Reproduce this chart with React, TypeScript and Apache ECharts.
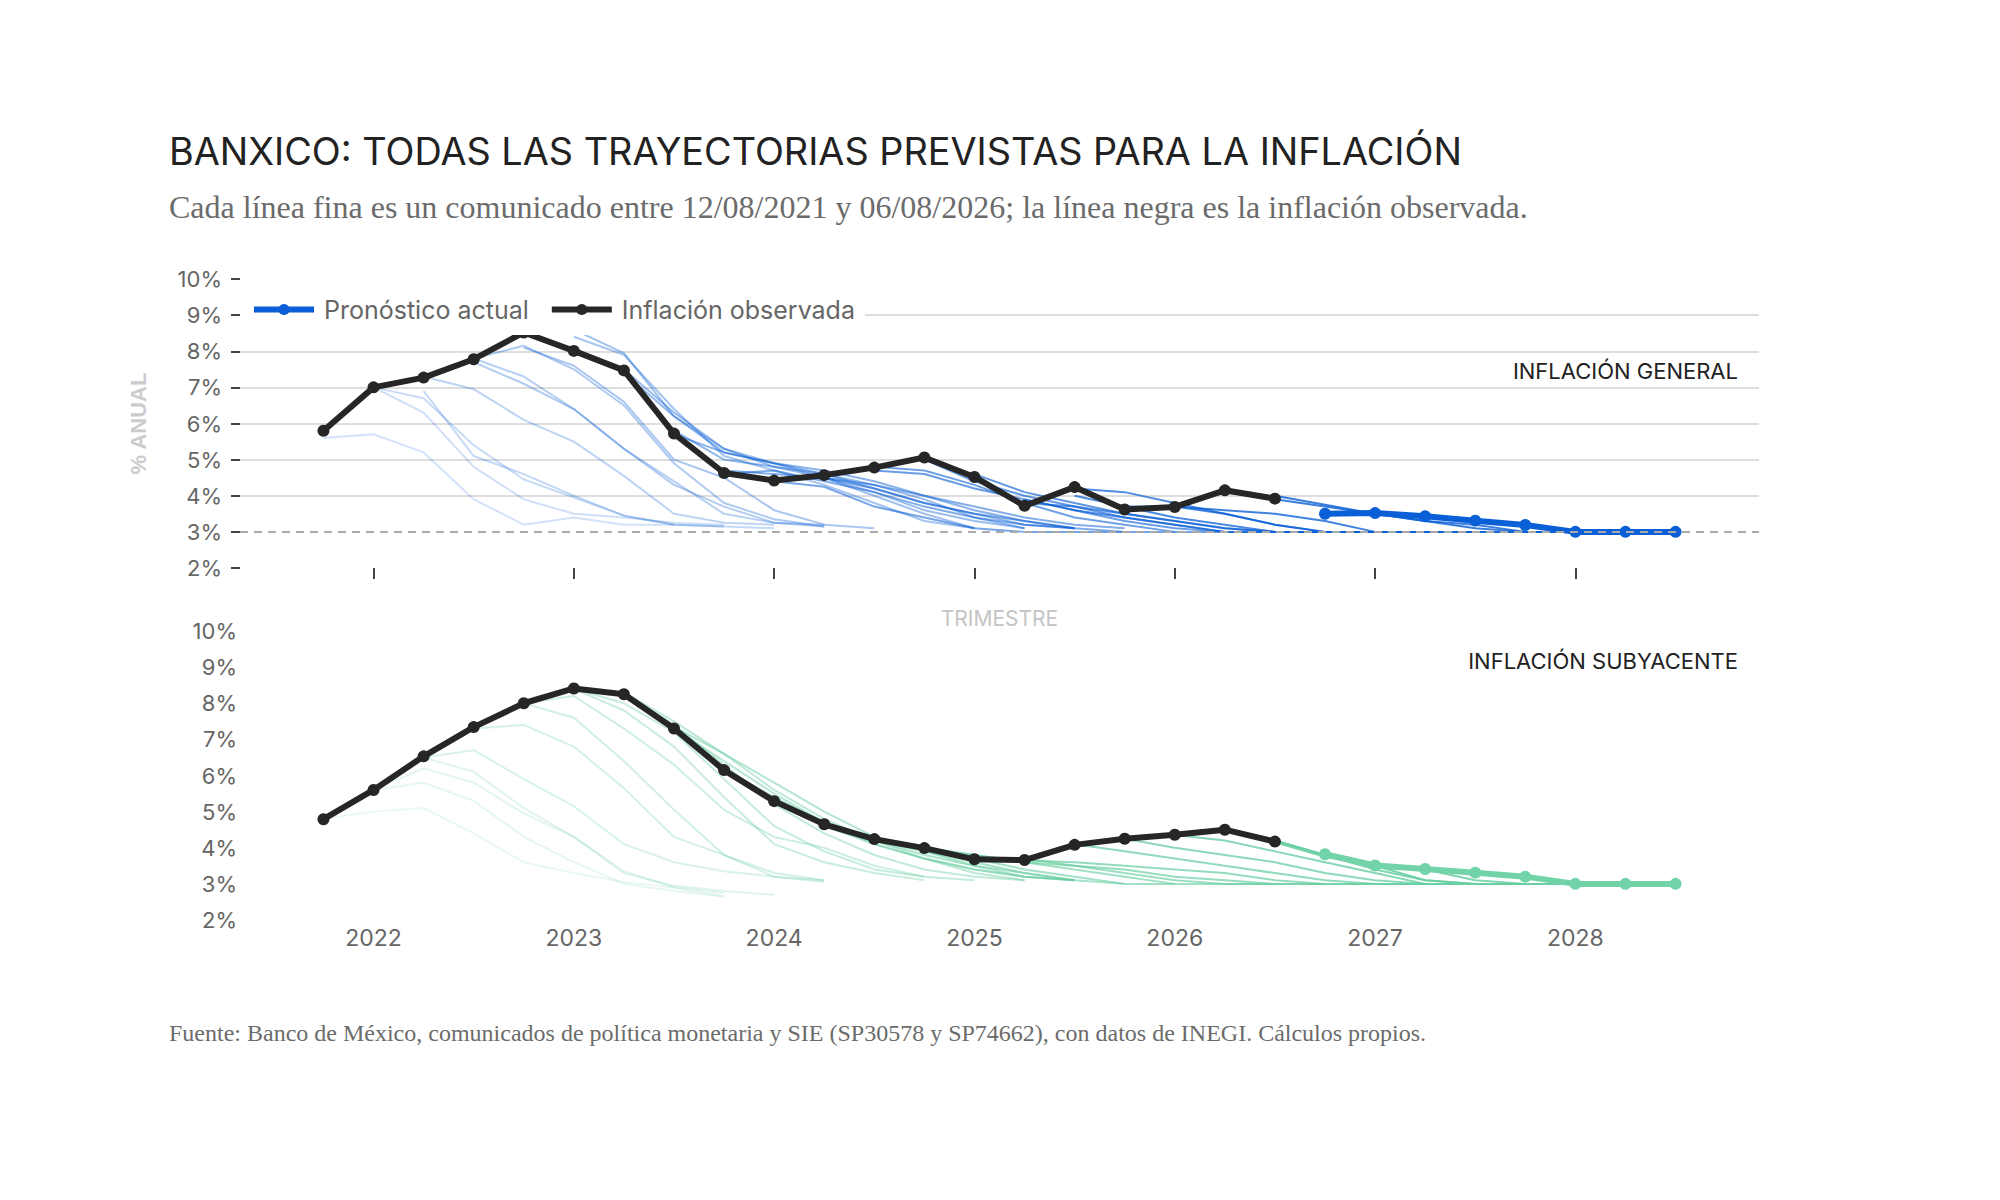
import { useEffect, useRef } from 'react';
import * as echarts from 'echarts';

// trimestres como año decimal (T1 = .00, T2 = .25, T3 = .50, T4 = .75)
const observedStart = 2021.75;
const forecastStart = 2026.75;
const yearTicks = [2022, 2023, 2024, 2025, 2026, 2027, 2028];

const generalObserved = [5.8, 7.0, 7.27, 7.78, 8.52, 8.01, 7.47, 5.72, 4.63, 4.42, 4.57, 4.78, 5.06, 4.52, 3.72, 4.24, 3.62, 3.69, 4.15, 3.92];
const coreObserved = [4.79, 5.6, 6.53, 7.34, 8.0, 8.41, 8.25, 7.3, 6.15, 5.29, 4.65, 4.24, 3.99, 3.68, 3.66, 4.08, 4.25, 4.36, 4.5, 4.17];

const generalForecast = [3.5, 3.52, 3.43, 3.31, 3.19, 3.0, 3.0, 3.0];
const coreForecast = [3.82, 3.51, 3.41, 3.31, 3.2, 3.0, 3.0, 3.0];

// trayectorias previstas en cada comunicado (de la más antigua a la más reciente)
const generalPathStarts = [
  2021.75, 2022.0, 2022.0, 2022.25, 2022.25, 2022.5, 2022.5, 2022.5, 2022.75, 2023.0, 2023.0,
  2023.25, 2023.25, 2023.5, 2023.5, 2023.75, 2023.75, 2024.0, 2024.0, 2024.5, 2024.5, 2024.75,
  2025.0, 2025.25, 2025.25, 2025.5, 2025.5, 2025.75, 2026.0, 2026.25, 2026.5,
];
const generalPaths = [
  [5.6, 5.7, 5.2, 3.9, 3.2, 3.4, 3.2, 3.2],
  [7.0, 6.3, 4.8, 3.9, 3.5, 3.4, 3.25, 3.2],
  [7.0, 6.7, 5.4, 4.45, 3.95, 3.45, 3.2, 3.15],
  [6.9, 5.1, 4.6, 4.0, 3.45, 3.2, 3.15, 3.1],
  [7.3, 6.95, 6.1, 5.5, 4.55, 3.5, 3.25, 3.2],
  [7.8, 7.3, 6.4, 5.3, 4.4, 3.5, 3.25, 3.2],
  [7.7, 7.1, 6.4, 5.3, 4.3, 3.7, 3.25, 3.15],
  [7.8, 8.15, 7.5, 6.5, 4.9, 3.8, 3.35, 3.15],
  [8.1, 7.6, 6.6, 5.0, 4.5, 3.6, 3.2, 3.1],
  [8.4, 7.9, 6.4, 5.1, 4.7, 4.3, 3.8, 3.3, 3.1],
  [8.6, 7.95, 6.2, 5.3, 4.9, 4.5, 4.0, 3.5, 3.1],
  [7.5, 6.3, 5.3, 4.8, 4.5, 4.1, 3.6, 3.3, 3.1],
  [7.4, 6.2, 5.2, 4.9, 4.6, 4.3, 3.9, 3.4, 3.1],
  [5.8, 5.0, 4.8, 4.6, 4.2, 3.8, 3.5, 3.2, 3.1],
  [5.7, 5.2, 4.9, 4.7, 4.4, 4.0, 3.6, 3.3, 3.1],
  [4.7, 4.6, 4.5, 4.3, 4.0, 3.7, 3.4, 3.2, 3.1],
  [4.6, 4.7, 4.4, 4.1, 3.7, 3.4, 3.2, 3.1],
  [4.4, 4.5, 4.2, 3.8, 3.5, 3.3, 3.1, 3.0],
  [4.4, 4.25, 3.7, 3.4, 3.1, 3.0, 3.0, 3.0, 3.0, 3.0],
  [4.8, 4.7, 4.3, 3.8, 3.4, 3.2, 3.0],
  [4.7, 4.6, 4.2, 3.9, 3.6, 3.3, 3.1, 3.0],
  [5.0, 4.4, 4.0, 3.7, 3.4, 3.2, 3.0, 3.0, 3.0],
  [4.6, 4.1, 3.8, 3.5, 3.3, 3.1, 3.0, 3.0, 3.0, 3.0],
  [3.8, 3.7, 3.5, 3.3, 3.1, 3.0, 3.0, 3.0],
  [3.9, 3.6, 3.4, 3.2, 3.0, 3.0, 3.0, 3.0, 3.0],
  [4.2, 4.1, 3.8, 3.5, 3.2, 3.0, 3.0, 3.0],
  [4.0, 3.7, 3.4, 3.2, 3.0, 3.0, 3.0, 3.0, 3.0, 3.0],
  [3.7, 3.7, 3.5, 3.2, 3.0, 3.0, 3.0, 3.0],
  [3.7, 3.6, 3.5, 3.3, 3.0, 3.0, 3.0, 3.0, 3.0],
  [4.1, 3.9, 3.7, 3.5, 3.3, 3.2, 3.0, 3.0, 3.0],
  [4.0, 3.75, 3.5, 3.3, 3.1, 3.0, 3.0, 3.0, 3.0],
];

const corePathStarts = [
  2021.75, 2022.0, 2022.0, 2022.25, 2022.25, 2022.5, 2022.75, 2022.75, 2023.0, 2023.0, 2023.25,
  2023.25, 2023.5, 2023.5, 2023.75, 2023.75, 2024.0, 2024.25, 2024.5, 2024.75, 2025.0, 2025.25,
  2025.5, 2025.75, 2026.0, 2026.25, 2026.5, 2026.5,
];
const corePaths = [
  [4.8, 5.0, 5.1, 4.4, 3.6, 3.3, 3.05, 2.9, 2.65],
  [5.6, 5.8, 5.3, 4.3, 3.6, 3.0, 2.8, 2.65],
  [5.6, 6.2, 5.8, 4.95, 4.3, 3.35, 2.9, 2.75],
  [6.5, 6.1, 5.1, 4.3, 3.3, 2.95, 2.8, 2.7],
  [6.5, 6.7, 5.9, 5.15, 4.1, 3.6, 3.35, 3.2, 3.05],
  [7.3, 7.4, 6.8, 5.65, 4.3, 3.8, 3.2, 3.1],
  [8.0, 7.6, 6.4, 5.05, 3.8, 3.3, 3.1],
  [8.0, 8.2, 7.3, 6.3, 5.05, 4.3, 4.0, 3.5, 3.2],
  [8.4, 7.8, 6.8, 5.4, 4.1, 3.6, 3.3, 3.1],
  [8.4, 8.0, 7.2, 5.9, 4.6, 3.9, 3.4, 3.2, 3.1],
  [8.25, 7.4, 6.3, 5.2, 4.4, 3.8, 3.4, 3.2, 3.1],
  [8.3, 7.5, 6.6, 5.6, 4.8, 4.2, 3.7, 3.3, 3.1],
  [7.3, 6.4, 5.5, 4.7, 4.1, 3.7, 3.4, 3.2, 3.1],
  [7.35, 6.6, 5.8, 5.0, 4.3, 3.9, 3.5, 3.2, 3.1],
  [6.2, 5.3, 4.6, 4.1, 3.7, 3.4, 3.2, 3.1],
  [6.15, 5.4, 4.7, 4.2, 3.8, 3.5, 3.3, 3.1],
  [5.3, 4.7, 4.2, 3.9, 3.6, 3.3, 3.1, 3.0],
  [4.65, 4.3, 4.0, 3.7, 3.4, 3.2, 3.0, 3.0],
  [4.25, 4.0, 3.8, 3.6, 3.4, 3.2, 3.0, 3.0, 3.0],
  [4.0, 3.8, 3.6, 3.5, 3.3, 3.1, 3.0, 3.0, 3.0],
  [3.7, 3.7, 3.5, 3.4, 3.2, 3.1, 3.0, 3.0, 3.0, 3.0],
  [3.65, 3.6, 3.5, 3.4, 3.3, 3.1, 3.0, 3.0, 3.0],
  [4.1, 3.9, 3.7, 3.5, 3.3, 3.1, 3.0, 3.0, 3.0],
  [4.25, 4.0, 3.8, 3.6, 3.3, 3.1, 3.0, 3.0, 3.0],
  [4.35, 4.2, 3.9, 3.6, 3.3, 3.0, 3.0, 3.0, 3.0],
  [4.5, 4.2, 3.8, 3.4, 3.1, 3.0, 3.0, 3.0],
  [4.2, 3.8, 3.5, 3.4, 3.1, 3.0, 3.0, 3.0],
  [4.15, 3.75, 3.5, 3.1, 3.0, 3.0, 3.0, 3.0, 3.0],
];

const BLUE = '#0a5fd6';
const GREEN = '#72d3a8';
const INK = '#262626';
const SANS = 'Inter, "Noto Sans", sans-serif';
const SERIF = '"Liberation Serif", "DejaVu Serif", serif';

const toPoints = (start: number, values: number[]) => values.map((v, i) => [start + i * 0.25, v]);

function thinSeries(starts: number[], paths: number[][], rgb: string, a0: number, a1: number, idx: number) {
  return paths.map((p, i) => {
    const alpha = a0 + ((a1 - a0) * i) / (paths.length - 1);
    return {
      type: 'line',
      name: `path-${idx}-${i}`,
      xAxisIndex: idx,
      yAxisIndex: idx,
      data: toPoints(starts[i], p),
      symbol: 'none',
      silent: true,
      lineStyle: { color: `rgba(${rgb},${alpha.toFixed(2)})`, width: 2 },
      ...(idx === 0 && i === 0
        ? {
            markLine: {
              silent: true,
              symbol: ['none', 'none'],
              label: { show: false },
              lineStyle: { color: '#aaaaaa', width: 2, type: [8, 6] },
              data: [{ yAxis: 3 }],
            },
          }
        : {}),
    };
  });
}

export default function App() {
  const chartRef = useRef<HTMLDivElement>(null);

  useEffect(() => {
    if (!chartRef.current) return;
    const chart = echarts.init(chartRef.current, undefined, { renderer: 'svg' });

    const xBase = {
      type: 'value',
      min: 2021.3333,
      max: 2028.9167,
      axisLine: { show: false },
      splitLine: { show: false },
    };
    const yBase = {
      type: 'value',
      min: 2,
      max: 10,
      interval: 1,
      axisLine: { show: false },
    };
    const tickLabel = { color: '#666', fontSize: 22, fontFamily: SANS };

    chart.setOption({
      animation: false,
      backgroundColor: '#fff',
      grid: [
        { left: 240, width: 1519, top: 279, height: 289 },
        { left: 240, width: 1519, top: 631, height: 289 },
      ],
      xAxis: [
        {
          ...xBase,
          gridIndex: 0,
          name: 'TRIMESTRE',
          nameLocation: 'middle',
          nameGap: 40,
          nameTextStyle: { color: '#c4c4c4', fontSize: 21, fontFamily: SANS },
          axisTick: { show: true, length: 11, customValues: yearTicks, lineStyle: { color: '#444', width: 2 } },
          axisLabel: { show: false },
        },
        {
          ...xBase,
          gridIndex: 1,
          axisTick: { show: false },
          axisLabel: { ...tickLabel, fontSize: 23, margin: 6, customValues: yearTicks, formatter: (v: number) => String(v) },
        },
      ],
      yAxis: [
        {
          ...yBase,
          gridIndex: 0,
          name: '% ANUAL',
          nameLocation: 'middle',
          nameRotate: 90,
          nameGap: 91,
          nameTextStyle: { color: '#cccccc', fontSize: 22, fontWeight: 'bold', fontFamily: '"Liberation Sans", Arial, sans-serif' },
          axisTick: { show: true, length: 9, lineStyle: { color: '#444', width: 2 } },
          axisLabel: { ...tickLabel, margin: 18, formatter: '{value}%' },
          splitLine: {
            show: true,
            lineStyle: {
              width: 2,
              color: ['rgba(0,0,0,0)', 'rgba(0,0,0,0)', '#dedede', '#dedede', '#dedede', '#dedede', '#dedede', '#dedede', 'rgba(0,0,0,0)'],
            },
          },
        },
        {
          ...yBase,
          gridIndex: 1,
          axisTick: { show: false },
          axisLabel: { ...tickLabel, margin: 3, formatter: '{value}%' },
          splitLine: { show: false },
        },
      ],
      legend: {
        data: ['Pronóstico actual', 'Inflación observada'],
        left: 240,
        top: 284,
        orient: 'horizontal',
        selectedMode: false,
        backgroundColor: '#fff',
        padding: [13, 10, 13, 11],
        itemWidth: 60,
        itemHeight: 14,
        itemGap: 20,
        lineStyle: { width: 6 },
        textStyle: { color: '#666', fontSize: 25, fontFamily: SANS, padding: [0, 0, 0, 5] },
      },
      graphic: [
        {
          type: 'text',
          x: 169,
          y: 151,
          style: {
            text: 'BANXICO: TODAS LAS TRAYECTORIAS PREVISTAS PARA LA INFLACIÓN',
            font: `37.8px ${SANS}`,
            fill: '#222',
            verticalAlign: 'middle',
          },
        },
        {
          type: 'text',
          x: 169,
          y: 207,
          style: {
            text: 'Cada línea fina es un comunicado entre 12/08/2021 y 06/08/2026; la línea negra es la inflación observada.',
            font: `32px ${SERIF}`,
            fill: '#6b6b6b',
            verticalAlign: 'middle',
          },
        },
        {
          type: 'text',
          x: 1738,
          y: 371,
          style: { text: 'INFLACIÓN GENERAL', font: `22px ${SANS}`, fill: '#222', align: 'right', verticalAlign: 'middle' },
        },
        {
          type: 'text',
          x: 1738,
          y: 661,
          style: { text: 'INFLACIÓN SUBYACENTE', font: `22px ${SANS}`, fill: '#222', align: 'right', verticalAlign: 'middle' },
        },
        {
          type: 'text',
          x: 169,
          y: 1033,
          style: {
            text: 'Fuente: Banco de México, comunicados de política monetaria y SIE (SP30578 y SP74662), con datos de INEGI. Cálculos propios.',
            font: `24px ${SERIF}`,
            fill: '#6b6b6b',
            verticalAlign: 'middle',
          },
        },
      ],
      series: [
        ...thinSeries(generalPathStarts, generalPaths, '10,95,214', 0.18, 0.82, 0),
        ...thinSeries(corePathStarts, corePaths, '104,206,162', 0.14, 0.88, 1),
        {
          type: 'line',
          name: 'Pronóstico actual',
          xAxisIndex: 0,
          yAxisIndex: 0,
          data: toPoints(forecastStart, generalForecast),
          symbol: 'circle',
          symbolSize: 12,
          lineStyle: { color: BLUE, width: 6 },
          itemStyle: { color: BLUE },
        },
        {
          type: 'line',
          name: 'Pronóstico actual (subyacente)',
          xAxisIndex: 1,
          yAxisIndex: 1,
          data: toPoints(forecastStart, coreForecast),
          symbol: 'circle',
          symbolSize: 12,
          lineStyle: { color: GREEN, width: 6 },
          itemStyle: { color: GREEN },
        },
        {
          type: 'line',
          name: 'Inflación observada',
          xAxisIndex: 0,
          yAxisIndex: 0,
          data: toPoints(observedStart, generalObserved),
          symbol: 'circle',
          symbolSize: 12,
          lineStyle: { color: INK, width: 6 },
          itemStyle: { color: INK },
        },
        {
          type: 'line',
          name: 'Inflación observada',
          xAxisIndex: 1,
          yAxisIndex: 1,
          data: toPoints(observedStart, coreObserved),
          symbol: 'circle',
          symbolSize: 12,
          lineStyle: { color: INK, width: 6 },
          itemStyle: { color: INK },
        },
      ],
    });

    return () => chart.dispose();
  }, []);

  return (
    <div
      ref={chartRef}
      style={{ position: 'absolute', left: 0, top: 0, width: 2000, height: 1200, background: '#fff' }}
    />
  );
}
